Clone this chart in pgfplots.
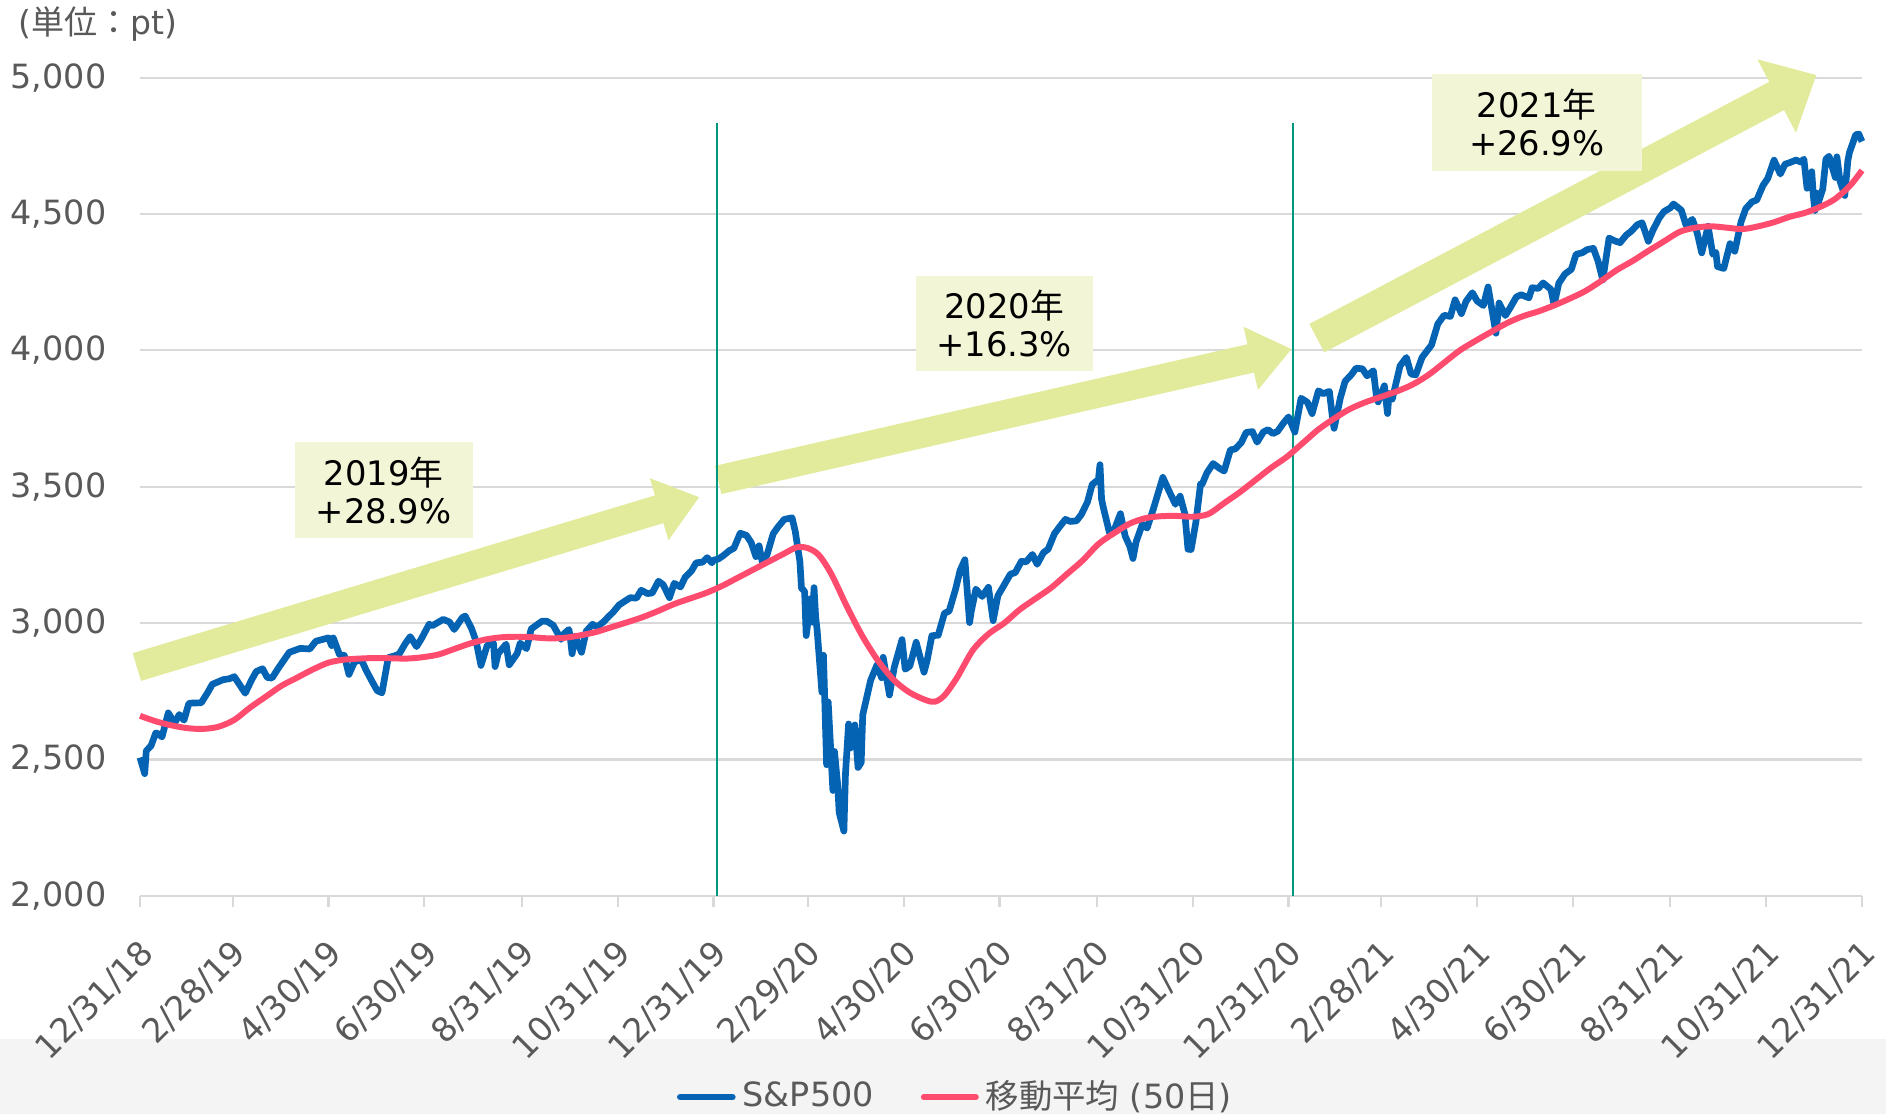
\documentclass[border=0pt]{standalone}
\usepackage{fontspec}
\setmainfont{DejaVu Sans}
\newfontfamily\jp{Noto Sans CJK JP}
\usepackage{pgfplots}
\pgfplotsset{compat=1.18}
\usetikzlibrary{arrows.meta}
\definecolor{spblue}{HTML}{0563B4}
\definecolor{mared}{HTML}{FF4B6E}
\definecolor{gridcol}{HTML}{D9D9D9}
\definecolor{txtgray}{HTML}{595959}
\definecolor{teal2}{HTML}{009880}
\definecolor{arrowcol}{HTML}{E2EB9C}
\definecolor{boxcol}{HTML}{F2F6D6}
\definecolor{bggray}{HTML}{F4F4F4}
\begin{document}
\begin{tikzpicture}
\path[use as bounding box] (0,0) rectangle (18.86cm,11.14cm);
\fill[bggray] (0,0) rectangle (18.86cm,0.75cm);
\node[anchor=west, text=txtgray, font=\fontsize{9.4}{11}\selectfont, inner sep=0pt] at (0.18cm,10.90cm) {({\jp 単位：}pt)};
\begin{axis}[
  at={(1.40cm,2.182cm)}, anchor=south west,
  scale only axis, width=17.22cm, height=8.181cm,
  xmin=0, xmax=1096, ymin=2000, ymax=5000,
  clip=false,
  axis x line*=bottom, axis y line*=left,
  x axis line style={draw=gridcol, line width=0.6pt, -},
  y axis line style={draw=none},
  xtick align=outside,
  xtick style={draw=gridcol, line width=0.6pt},
  ytick style={draw=none},
  major tick length=0.11cm,
  ymajorgrids, grid style={gridcol, line width=0.6pt},
  ytick={2000,2500,3000,3500,4000,4500,5000},
  xtick={0,59,120,181,243,304,365,425,486,547,609,670,731,790,851,912,974,1035,1096},
  xticklabels={12/31/18,2/28/19,4/30/19,6/30/19,8/31/19,10/31/19,12/31/19,2/29/20,4/30/20,6/30/20,8/31/20,10/31/20,12/31/20,2/28/21,4/30/21,6/30/21,8/31/21,10/31/21,12/31/21},
  /pgf/number format/.cd, 1000 sep={,}, assume math mode=true, /pgfplots/.cd,
  ticklabel style={text=txtgray, font=\fontsize{9.5}{11}\selectfont},
  yticklabel style={anchor=east, inner sep=0pt, xshift=-0.33cm},
  xticklabel style={inner sep=0pt, xshift=0.08cm, yshift=-0.40cm, rotate=45, anchor=east},
  legend columns=-1,
  legend style={at={(0.475,-0.246)}, anchor=center, draw=none, fill=none,
    text=txtgray, font=\fontsize{9.5}{11}\selectfont, inner sep=0pt,
    /tikz/every even column/.append style={column sep=0.4cm}},
  legend image code/.code={\draw[#1, line cap=round] (0cm,0cm) -- (0.52cm,0cm);},
]
% arrows and boxes (annotation)
\draw[arrowcol, line width=0.29cm, -{Triangle[width=0.62cm,length=0.42cm]}] (axis cs:-2,2839) -- (axis cs:356,3462);
\draw[arrowcol, line width=0.29cm, -{Triangle[width=0.62cm,length=0.42cm]}] (axis cs:368,3525) -- (axis cs:733,4005);
\draw[arrowcol, line width=0.32cm, -{Triangle[width=0.80cm,length=0.45cm]}] (axis cs:749,4045) -- (axis cs:1067,5010);
\draw[teal2, line width=0.6pt] (axis cs:367,2000) -- (axis cs:367,4834);
\draw[teal2, line width=0.6pt] (axis cs:734,2000) -- (axis cs:734,4834);
\node[fill=boxcol, minimum width=1.78cm, minimum height=0.96cm, align=center, inner sep=0pt, font=\fontsize{9.6}{10.8}\selectfont] at (axis cs:155,3488) {2019{\jp 年}\\+28.9\%};
\node[fill=boxcol, minimum width=1.77cm, minimum height=0.95cm, align=center, inner sep=0pt, font=\fontsize{9.6}{10.8}\selectfont] at (axis cs:550,4100) {2020{\jp 年}\\+16.3\%};
\node[fill=boxcol, minimum width=2.10cm, minimum height=0.97cm, align=center, inner sep=0pt, font=\fontsize{9.6}{10.8}\selectfont] at (axis cs:889,4834) {2021{\jp 年}\\+26.9\%};

\addplot[spblue, line width=1.9pt, line join=round] coordinates {
(0,2506.85)(3,2447.89)(4,2531.94)(7,2549.69)(10,2596.64)(11,2596.26)(14,2582.61)(18,2670.71)(22,2632.90)(25,2664.76)(28,2643.85)(31,2704.10)(32,2706.53)(39,2707.88)(43,2744.73)(46,2775.60)(53,2792.67)(57,2796.11)(60,2803.69)(67,2743.07)(71,2791.52)(74,2822.48)(78,2832.57)(81,2800.71)(84,2798.36)(88,2834.40)(95,2892.74)(102,2907.41)(108,2905.03)(112,2933.68)(116,2939.88)(120,2945.83)(122,2917.52)(123,2945.64)(127,2884.05)(130,2881.40)(133,2811.87)(136,2850.96)(137,2859.53)(141,2864.36)(144,2826.06)(148,2783.02)(151,2752.06)(154,2744.45)(158,2873.34)(162,2879.84)(165,2886.98)(169,2926.46)(172,2950.46)(176,2913.78)(179,2941.76)(184,2995.82)(186,2990.41)(193,3013.77)(197,3004.04)(200,2976.61)(205,3019.56)(207,3025.86)(211,2980.38)(214,2932.05)(217,2844.74)(221,2918.65)(225,2926.32)(226,2840.60)(228,2888.68)(233,2922.95)(235,2847.11)(240,2887.94)(242,2926.46)(246,2906.27)(249,2978.71)(256,3007.39)(259,3006.73)(263,2992.07)(268,2940.25)(270,2961.79)(273,2976.74)(274,2940.25)(275,2887.61)(277,2952.01)(281,2893.06)(284,2970.27)(288,2995.68)(291,2986.20)(295,3004.52)(298,3022.55)(301,3039.42)(305,3066.91)(308,3078.27)(312,3093.08)(316,3091.84)(319,3120.46)(323,3108.46)(326,3110.29)(330,3153.63)(333,3140.98)(337,3093.20)(340,3145.91)(344,3132.52)(347,3168.80)(351,3191.45)(354,3221.22)(358,3223.38)(361,3240.02)(364,3221.29)(365,3230.78)
(368,3234.85)(371,3246.28)(375,3265.35)(378,3274.70)(382,3329.62)(386,3321.75)(389,3295.47)(392,3243.63)(394,3283.66)(396,3225.52)(399,3248.92)(403,3327.71)(406,3352.09)(410,3380.16)(415,3386.15)(417,3337.75)(420,3225.89)(421,3128.21)(423,3116.39)(424,2954.22)(427,3090.23)(428,3003.37)(429,3130.12)(430,3023.94)(431,2972.37)(434,2746.56)(435,2882.23)(437,2480.64)(438,2711.02)(441,2386.13)(442,2529.19)(444,2409.39)(445,2304.92)(448,2237.40)(449,2447.33)(451,2630.07)(452,2541.47)(455,2626.65)(457,2470.50)(459,2488.65)(460,2663.68)(465,2789.82)(469,2846.06)(472,2799.55)(473,2874.56)(477,2736.56)(480,2836.74)(485,2939.51)(487,2830.71)(490,2842.74)(494,2929.80)(499,2820.00)(501,2863.70)(504,2953.91)(508,2955.45)(512,3036.13)(515,3044.31)(519,3122.87)(522,3193.93)(525,3232.39)(528,3002.10)(529,3041.31)(532,3124.74)(536,3097.74)(540,3131.29)(543,3009.05)(546,3100.29)(549,3130.01)(554,3179.72)(557,3185.04)(561,3226.56)(564,3224.73)(568,3251.84)(571,3215.63)(575,3258.44)(578,3271.12)(582,3327.77)(585,3351.28)(589,3380.35)(592,3372.85)(596,3374.85)(599,3397.16)(603,3443.62)(606,3508.01)(610,3526.65)(611,3580.84)(612,3455.06)(613,3426.96)(617,3331.84)(620,3340.97)(624,3401.20)(627,3319.47)(630,3281.06)(632,3236.92)(634,3298.46)(638,3363.00)(641,3348.42)(645,3419.44)(648,3477.13)(651,3534.22)(655,3483.81)(659,3435.56)(662,3465.39)(665,3400.97)(667,3271.03)(669,3269.96)(672,3369.16)(675,3510.45)(676,3509.44)(679,3550.50)(683,3585.15)(687,3567.79)(690,3557.54)(694,3635.41)(697,3638.35)(701,3662.45)(704,3699.12)(708,3702.25)(711,3663.46)(715,3701.17)(718,3709.41)(721,3694.92)(724,3703.06)(728,3735.36)(731,3756.07)
(735,3700.65)(739,3824.68)(743,3809.84)(746,3768.25)(750,3851.85)(753,3841.47)(757,3849.62)(759,3750.77)(760,3714.24)(764,3826.31)(767,3886.83)(771,3911.23)(774,3934.83)(778,3932.59)(781,3906.71)(785,3925.43)(787,3829.34)(788,3811.15)(792,3870.29)(794,3768.47)(795,3841.94)(797,3821.35)(802,3943.34)(806,3974.12)(809,3913.10)(812,3910.52)(816,3974.54)(822,4019.87)(826,4097.17)(830,4128.80)(834,4124.66)(837,4185.47)(841,4134.98)(844,4180.17)(848,4211.47)(851,4181.17)(855,4164.66)(858,4232.60)(863,4063.04)(865,4173.85)(869,4127.83)(872,4155.86)(876,4195.99)(879,4204.11)(884,4192.85)(886,4229.89)(890,4227.26)(893,4247.44)(898,4223.70)(900,4166.45)(903,4246.44)(907,4280.70)(911,4297.50)(914,4352.34)(918,4358.13)(921,4369.55)(925,4374.30)(928,4327.16)(931,4258.49)(935,4411.79)(939,4400.64)(942,4395.26)(946,4423.15)(949,4436.52)(953,4460.83)(956,4468.00)(960,4400.27)(963,4441.67)(967,4486.23)(970,4509.37)(974,4522.68)(976,4536.95)(981,4514.07)(984,4458.58)(988,4480.70)(991,4432.99)(994,4357.73)(998,4455.48)(1001,4352.63)(1003,4359.46)(1004,4307.54)(1008,4300.46)(1012,4391.34)(1015,4363.55)(1019,4471.37)(1022,4519.63)(1026,4544.90)(1029,4551.68)(1033,4605.38)(1036,4630.65)(1040,4697.53)(1044,4646.71)(1047,4682.85)(1050,4688.67)(1054,4697.96)(1057,4690.70)(1059,4701.46)(1061,4594.62)(1064,4655.27)(1065,4567.00)(1066,4513.04)(1067,4577.10)(1068,4538.43)(1071,4591.67)(1073,4701.21)(1075,4712.02)(1079,4634.09)(1080,4709.85)(1082,4620.64)(1085,4568.02)(1087,4696.56)(1088,4725.79)(1092,4791.19)(1094,4793.06)(1095,4778.73)(1096,4766.18)
};
\addlegendentry{S\&P500}
\addplot[mared, line width=1.7pt, line join=round, smooth] coordinates {
(0,2660)(10,2640)(20,2625)(30,2615)(40,2612)(50,2620)(60,2645)(70,2690)(80,2730)(90,2770)(100,2800)(110,2830)(120,2855)(130,2866)(140,2870)(150,2872)(160,2871)(170,2870)(180,2875)(190,2885)(200,2905)(210,2925)(220,2940)(230,2948)(240,2950)(250,2948)(260,2944)(270,2946)(280,2955)(290,2967)(300,2985)(310,3003)(320,3022)(330,3045)(340,3070)(350,3090)(360,3110)(370,3135)(380,3165)(390,3195)(400,3225)(410,3255)(418,3278)(425,3275)(432,3250)(440,3180)(450,3060)(460,2950)(470,2860)(480,2790)(490,2745)(500,2718)(506,2712)(512,2735)(520,2800)(530,2900)(540,2960)(550,3000)(560,3050)(570,3090)(580,3130)(590,3180)(600,3230)(610,3290)(620,3330)(630,3365)(640,3385)(650,3392)(660,3393)(670,3390)(680,3400)(690,3440)(700,3480)(710,3525)(720,3570)(730,3610)(740,3660)(750,3710)(760,3750)(770,3785)(780,3810)(790,3830)(800,3850)(810,3875)(820,3910)(830,3955)(840,4000)(850,4035)(860,4068)(870,4100)(880,4125)(890,4143)(900,4165)(910,4190)(920,4218)(930,4255)(940,4295)(950,4328)(960,4365)(970,4400)(980,4435)(990,4450)(1000,4455)(1010,4450)(1020,4445)(1030,4455)(1040,4470)(1050,4490)(1060,4505)(1070,4528)(1078,4552)(1085,4585)(1090,4615)(1096,4660)
};
\addlegendentry{{\jp 移動平均} (50{\jp 日})}
\end{axis}
\end{tikzpicture}
\end{document}
